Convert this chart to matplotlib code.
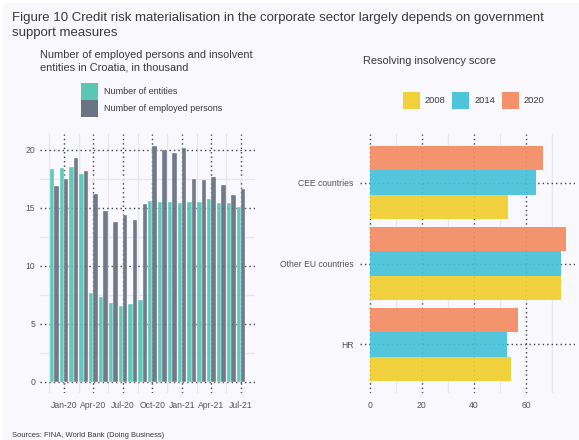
import matplotlib
matplotlib.use("Agg")
import matplotlib.pyplot as plt
from matplotlib.patches import Rectangle
import numpy as np

plt.rcParams['font.family'] = ['Liberation Sans', 'DejaVu Sans']

# ---- Left panel: insolvent entities and their employees (thousand) ----
months = ["Dec-19", "Jan-20", "Feb-20", "Mar-20", "Apr-20", "May-20", "Jun-20",
          "Jul-20", "Aug-20", "Sep-20", "Oct-20", "Nov-20", "Dec-20", "Jan-21",
          "Feb-21", "Mar-21", "Apr-21", "May-21", "Jun-21", "Jul-21"]
entities = [18.30, 18.45, 18.50, 17.93, 7.65, 7.30, 6.78, 6.52, 6.73, 7.04,
            15.57, 15.46, 15.49, 15.43, 15.49, 15.49, 15.75, 15.40, 15.40, 15.03]
employed = [16.90, 17.47, 19.28, 18.16, 16.15, 14.74, 13.76, 14.40, 13.97, 15.32,
            20.34, 20.00, 19.71, 20.14, 17.44, 17.41, 17.64, 16.98, 16.06, 16.64]
month_ticks = ["Jan-20", "Apr-20", "Jul-20", "Oct-20", "Jan-21", "Apr-21", "Jul-21"]
y_ticks_left = [0, 5, 10, 15, 20]

# ---- Right panel: resolving insolvency score ----
regions = ["HR", "Other EU countries", "CEE countries"]
years = ["2008", "2014", "2020"]
score_2008 = [54.1, 73.3, 52.9]
score_2014 = [52.6, 73.3, 63.7]
score_2020 = [56.7, 75.1, 66.4]
x_ticks_right = [0, 20, 40, 60]

BG = "#F8F8FD"
TEAL = "#52C4B2"
SLATE = "#626C7C"
YELLOW = "#F2CE2E"
CYAN = "#45C2DA"
ORANGE = "#F48C62"
GRID_DOT = "#3A4250"
GRID_MINOR = "#E6E6EC"
TEXT = "#3A3A3A"
TICK = "#555555"

W, H = 579, 440
fig = plt.figure(figsize=(W / 100, H / 100), dpi=100, facecolor=BG)
# thin white frame along top and left edges
fig.patches.append(Rectangle((0, 1 - 3 / H), 1, 3 / H, transform=fig.transFigure,
                             facecolor="white", edgecolor="none", zorder=0))
fig.patches.append(Rectangle((0, 0), 3 / W, 1, transform=fig.transFigure,
                             facecolor="white", edgecolor="none", zorder=0))


def px_box(x0, y0, x1, y1):
    return [x0 / W, 1 - y1 / H, (x1 - x0) / W, (y1 - y0) / H]


def fx(x):
    return x / W


def fy(y):
    return 1 - y / H


dot = (0, (1.0, 2.2))

# ================= Left panel =================
axL = fig.add_axes(px_box(40, 134, 255, 393))
axL.set_facecolor(BG)
idx = np.arange(len(months))
bw = 0.45
axL.bar(idx - bw / 2, entities, width=bw, color=TEAL, alpha=0.9,
        edgecolor=BG, linewidth=0.3, zorder=3)
axL.bar(idx + bw / 2, employed, width=bw, color=SLATE, alpha=0.9,
        edgecolor=BG, linewidth=0.3, zorder=3)

tick_pos = [months.index(m) for m in month_ticks]
axL.set_xticks(tick_pos)
axL.set_xticklabels(month_ticks)
axL.set_xticks([p - 1.5 for p in tick_pos] + [tick_pos[-1] + 1.5], minor=True)
axL.set_yticks(y_ticks_left)
axL.set_yticks([v + 2.5 for v in y_ticks_left[:-1]] + [22.5], minor=True)
axL.set_xlim(-1.44, 20.43)
axL.set_ylim(-0.97, 21.35)

# ================= Right panel =================
axR = fig.add_axes(px_box(360, 134, 575, 393))
axR.set_facecolor(BG)
pos = np.arange(len(regions))
bh = 0.3
axR.barh(pos - bh, score_2008, height=bh, color=YELLOW, alpha=0.92, zorder=3, label=years[0])
axR.barh(pos, score_2014, height=bh, color=CYAN, alpha=0.92, zorder=3, label=years[1])
axR.barh(pos + bh, score_2020, height=bh, color=ORANGE, alpha=0.92, zorder=3, label=years[2])
axR.set_yticks(pos)
axR.set_yticklabels(regions)
axR.set_xticks(x_ticks_right)
axR.set_xticks([v + 10 for v in x_ticks_right], minor=True)
axR.set_xlim(-3.7, 78.7)
axR.set_ylim(-0.6, 2.6)

for ax in (axL, axR):
    for s in ax.spines.values():
        s.set_visible(False)
    ax.set_axisbelow(True)
    ax.grid(True, which="major", color=GRID_DOT, linestyle=dot, linewidth=1.0)
    ax.grid(True, which="minor", color=GRID_MINOR, linestyle="-", linewidth=0.9)
    ax.tick_params(which="both", length=0, labelsize=6.2, labelcolor=TICK)
    ax.tick_params(axis="x", pad=5.5)
    ax.tick_params(axis="y", pad=3.5)
axR.tick_params(axis="y", pad=4.5)
axR.grid(False, which="minor", axis="y")
axL.set_zorder(1)

# ================= Titles and legends =================
fig.text(fx(12), fy(21.5), "Figure 10 Credit risk materialisation in the corporate sector largely depends on government",
         fontsize=9.5, color=TEXT, va="baseline")
fig.text(fx(12), fy(36), "support measures", fontsize=9.5, color=TEXT, va="baseline")

fig.text(fx(40), fy(58), "Number of employed persons and insolvent",
         fontsize=7.9, color=TEXT, va="baseline")
fig.text(fx(40), fy(70), "entities in Croatia, in thousand",
         fontsize=7.9, color=TEXT, va="baseline")
fig.text(fx(363), fy(63.5), "Resolving insolvency score",
         fontsize=7.9, color=TEXT, va="baseline")

# left legend: stacked swatches
for (y0, y1, col, lab, base) in [(83, 99.7, TEAL, "Number of entities", 93.8),
                                  (99.7, 116.7, SLATE, "Number of employed persons", 111.3)]:
    fig.patches.append(Rectangle((fx(80.7), fy(y1)), 17.1 / W, (y1 - y0) / H,
                                 transform=fig.transFigure, facecolor=col,
                                 edgecolor="none", alpha=0.95))
    fig.text(fx(103.7), fy(base), lab, fontsize=6.5, color=TEXT, va="baseline")

# right legend: horizontal swatches
for (x0, col, lab, tx) in [(402.6, YELLOW, years[0], 425),
                           (452, CYAN, years[1], 474.7),
                           (501.5, ORANGE, years[2], 524)]:
    fig.patches.append(Rectangle((fx(x0), fy(108.7)), 17.2 / W, 16.4 / H,
                                 transform=fig.transFigure, facecolor=col,
                                 edgecolor="none", alpha=0.95))
    fig.text(fx(tx), fy(103), lab, fontsize=6.7, color=TEXT, va="baseline")

fig.text(fx(12.3), fy(437), "Sources: FINA, World Bank (Doing Business)",
         fontsize=5.4, color=TEXT, va="baseline")

fig.savefig("out.png", dpi=100, facecolor=BG)
